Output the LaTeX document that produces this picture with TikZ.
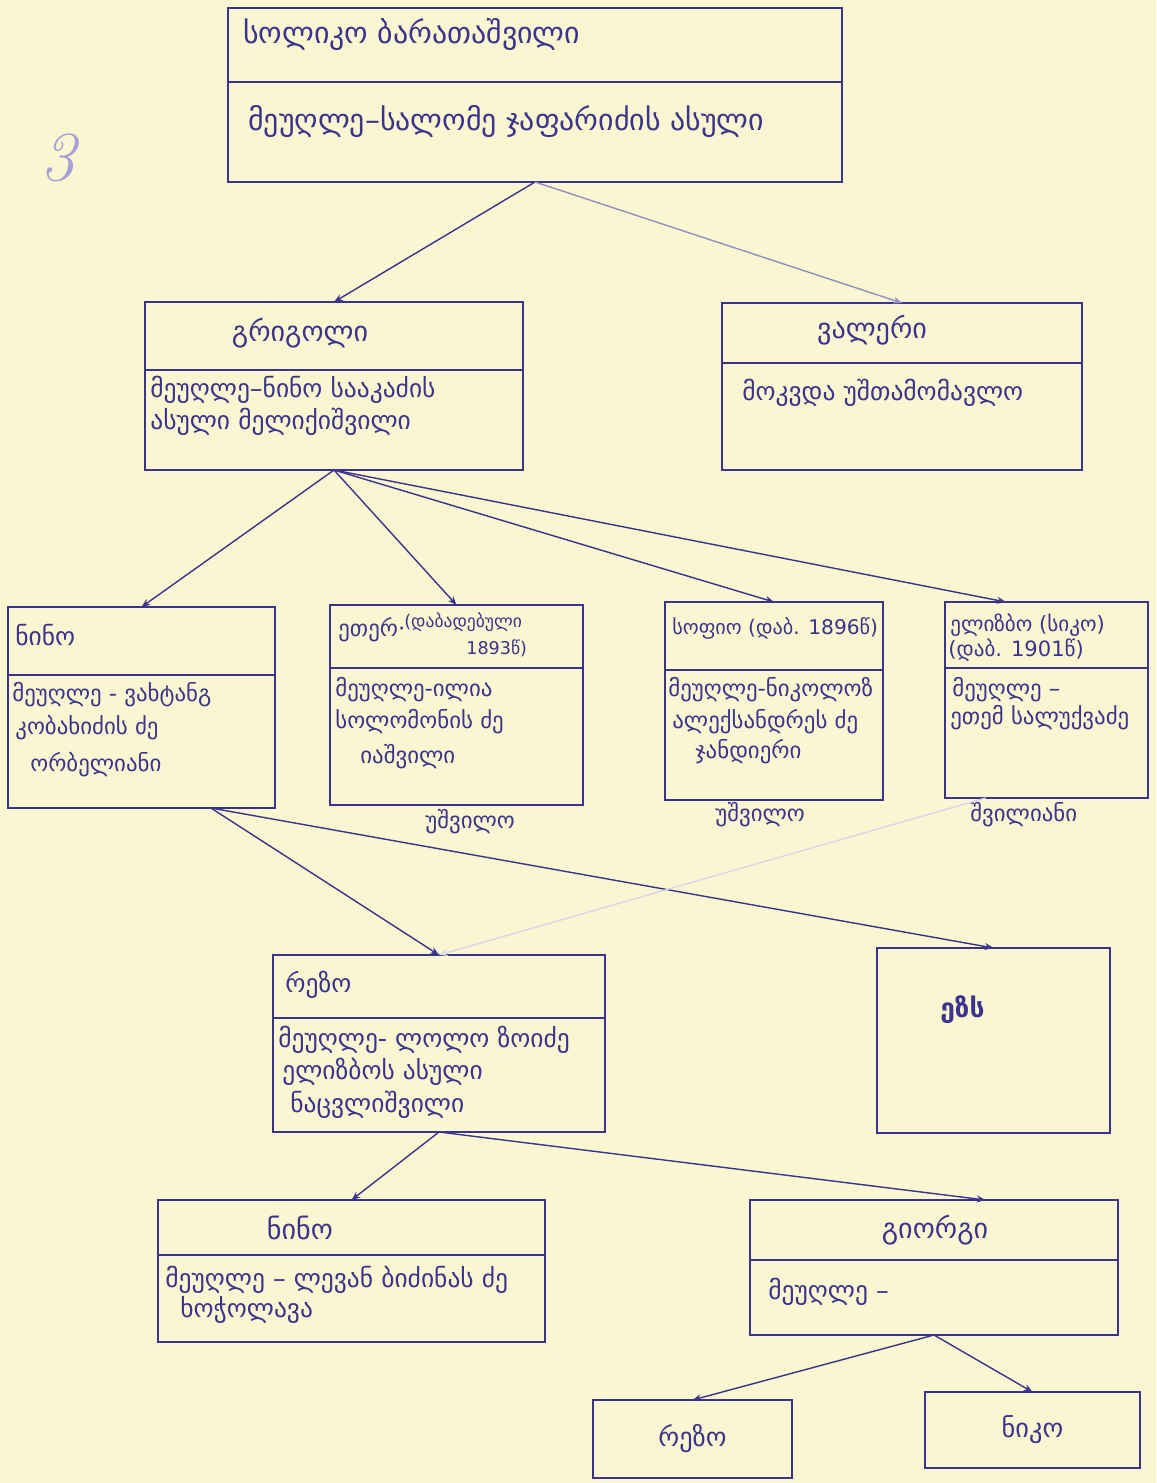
\documentclass[tikz,border=0pt]{standalone}
\usepackage{fontspec}
\newfontfamily\geo{DejaVu Sans}
\usetikzlibrary{arrows.meta,calc}
\definecolor{inkblue}{RGB}{58,52,140}
\definecolor{paper}{RGB}{250,246,210}
\definecolor{pencil}{RGB}{165,160,215}

\begin{document}
\begin{tikzpicture}[x=0.02cm, y=-0.02cm,
    card/.style 2 args={draw=inkblue, line width=0.8pt, anchor=north west, inner sep=0pt, outer sep=0pt,
        minimum width=#1*0.02cm, minimum height=#2*0.02cm},
    txt/.style={anchor=west, inner sep=0pt, text=inkblue, font=\geo\fontsize{13}{15}\selectfont},
    txtM/.style={txt, font=\geo\fontsize{14.5}{17}\selectfont},
    txtL/.style={txt, font=\geo\fontsize{17}{20}\selectfont},
    title/.style={txt, anchor=center, font=\geo\fontsize{16}{19}\selectfont},
    small/.style={txt, font=\geo\fontsize{10}{12}\selectfont},
    link/.style={draw=inkblue, line width=0.8pt, -{Stealth[length=5pt,width=4pt]}}]

    \fill[paper] (0,0) rectangle (1156,1483);
    \node[text=pencil, font=\itshape\fontsize{40}{40}\selectfont] (pageno) at (58,158) {3};

    % root
    \node[card={614}{74}] (rootH) at (228,8) {};
    \node[card={614}{100}] (rootB) at (228,82) {};
    \node[txtL] (rootN) at (243,35) {სოლიკო ბარათაშვილი};
    \node[txtL] (rootS) at (248,122) {მეუღლე–სალომე ჯაფარიძის ასული};

    % sons
    \node[card={378}{68}] (griH) at (145,302) {};
    \node[card={378}{100}] (griB) at (145,370) {};
    \node[title] (griN) at (300,333) {გრიგოლი};
    \node[txtM] (griS) at (150,390) {მეუღლე–ნინო სააკაძის};
    \node[txtM] (griT) at (150,422) {ასული მელიქიშვილი};

    \node[card={360}{60}] (valH) at (722,303) {};
    \node[card={360}{107}] (valB) at (722,363) {};
    \node[title] (valN) at (872,330) {ვალერი};
    \node[txtM] (valS) at (742,393) {მოკვდა უშთამომავლო};

    \draw[link] (rootB.south) -- (griH.north);
    \draw[link, draw=inkblue!55] (rootB.south) -- (valH.north);

    % grandchildren
    \node[card={267}{68}] (aniH) at (8,607) {};
    \node[card={267}{133}] (aniB) at (8,675) {};
    \node[txtM] (aniN) at (15,635) {ნინო};
    \node[txt] (aniS) at (12,695) {მეუღლე - ვახტანგ};
    \node[txt] (aniT) at (15,728) {კობახიძის ძე};
    \node[txt] (aniU) at (30,765) {ორბელიანი};

    \node[card={253}{63}] (ekaH) at (330,605) {};
    \node[card={253}{137}] (ekaB) at (330,668) {};
    \node[txt] (ekaN) at (338,630) {ეთერ·};
    \node[small] (ekaD) at (404,622) {(დაბადებული};
    \node[small] (ekaY) at (466,648) {1893წ)};
    \node[txt] (ekaS) at (335,690) {მეუღლე-ილია};
    \node[txt] (ekaT) at (335,722) {სოლომონის ძე};
    \node[txt] (ekaU) at (360,757) {იაშვილი};
    \node[txt] (ekaNote) at (425,822) {უშვილო};

    \node[card={218}{68}] (sofH) at (665,602) {};
    \node[card={218}{130}] (sofB) at (665,670) {};
    \node[small, font=\geo\fontsize{11.5}{13}\selectfont] (sofN) at (672,628) {სოფიო (დაბ. 1896წ)};
    \node[txt] (sofS) at (668,690) {მეუღლე-ნიკოლოზ};
    \node[txt] (sofT) at (672,722) {ალექსანდრეს ძე};
    \node[txt] (sofU) at (695,752) {ჯანდიერი};
    \node[txt] (sofNote) at (715,815) {უშვილო};

    \node[card={203}{66}] (eliH) at (945,602) {};
    \node[card={203}{130}] (eliB) at (945,668) {};
    \node[small, font=\geo\fontsize{12}{14}\selectfont] (eliN) at (950,625) {ელიზბო (სიკო)};
    \node[small, font=\geo\fontsize{12}{14}\selectfont] (eliD) at (948,650) {(დაბ. 1901წ)};
    \node[txt] (eliS) at (952,690) {მეუღლე –};
    \node[txt] (eliT) at (950,718) {ეთემ სალუქვაძე};
    \node[txt] (eliNote) at (970,815) {შვილიანი};

    \draw[link] (griB.south) -- (aniH.north);
    \draw[link] (griB.south) -- (ekaH.north);
    \draw[link] (griB.south) -- (sofH.north);
    \draw[link] (griB.south) -- ($(eliH.north west)!0.3!(eliH.north east)$);

    % great-grandchildren
    \node[card={332}{63}] (rezoH) at (273,955) {};
    \node[card={332}{114}] (rezoB) at (273,1018) {};
    \node[txtM] (rezoN) at (285,985) {რეზო};
    \node[txtM] (rezoS) at (278,1040) {მეუღლე- ლოლო ზოიძე};
    \node[txtM] (rezoT) at (282,1072) {ელიზბოს ასული};
    \node[txtM] (rezoU) at (290,1105) {ნაცვლიშვილი};

    \node[card={233}{185}] (ezs) at (877,948) {};
    \node[txt, font=\geo\bfseries\fontsize{15}{17}\selectfont] (ezsN) at (940,1010) {ეზს};

    \coordinate (aniFoot) at ($(aniB.south west)!0.76!(aniB.south east)$);
    \coordinate (eliFoot) at ($(eliB.south west)!0.2!(eliB.south east)$);
    \draw[link] (aniFoot) -- (rezoH.north);
    \draw[link] (aniFoot) -- (ezs.north);
    \draw[link, draw=inkblue!20] (eliFoot) -- (rezoH.north);

    % fourth generation
    \node[card={387}{55}] (ninoH) at (158,1200) {};
    \node[card={387}{87}] (ninoB) at (158,1255) {};
    \node[title] (ninoN) at (300,1228) {ნინო};
    \node[txtM] (ninoS) at (165,1280) {მეუღლე – ლევან ბიძინას ძე};
    \node[txtM] (ninoT) at (180,1310) {ხოჭოლავა};

    \node[card={368}{60}] (gioH) at (750,1200) {};
    \node[card={368}{75}] (gioB) at (750,1260) {};
    \node[title] (gioN) at (935,1230) {გიორგი};
    \node[txtM] (gioS) at (768,1292) {მეუღლე –};

    \draw[link] (rezoB.south) -- (ninoH.north);
    \draw[link] (rezoB.south) -- ($(gioH.north west)!0.64!(gioH.north east)$);

    % fifth generation
    \node[card={199}{78}, text=inkblue, font=\geo\fontsize{15}{17}\selectfont] (rezo2) at (593,1400) {რეზო};
    \node[card={215}{76}, text=inkblue, font=\geo\fontsize{15}{17}\selectfont] (niko) at (925,1392) {ნიკო};

    \draw[link] (gioB.south) -- (rezo2.north);
    \draw[link] (gioB.south) -- (niko.north);
\end{tikzpicture}
\end{document}
